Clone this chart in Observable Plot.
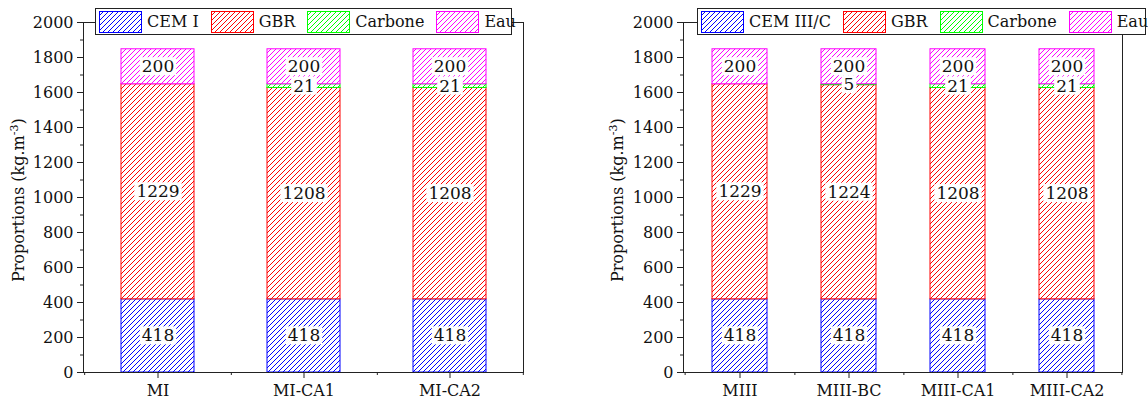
<!DOCTYPE html>
<html>
<head>
<meta charset="utf-8">
<script src="https://cdn.jsdelivr.net/npm/d3@7"></script>
<script src="https://cdn.jsdelivr.net/npm/@observablehq/plot@0.6"></script>
<style>
  html, body { margin: 0; padding: 0; background: white; }
  #root { position: relative; width: 1148px; height: 403px; overflow: hidden; font-family: "DejaVu Serif", serif; }
  .panel { position: absolute; top: 0; }
  .legend { position: absolute; top: 8px; height: 27px; box-sizing: border-box; border: 1px solid #222; background: white; display: flex; align-items: center; font-size: 16px; color: #111; white-space: nowrap; }
  .legend .item { display: flex; align-items: center; }
  .legend svg { display: block; margin-right: 5px; }
  .ylab { position: absolute; font-size: 16px; color: #111; white-space: nowrap; transform-origin: center center; }
</style>
</head>
<body>
<div id="root"></div>
<script>
// ---------- data ----------
const leftCategories = ["MI", "MI-CA1", "MI-CA2"];
const leftSeriesNames = ["CEM I", "GBR", "Carbone", "Eau"];
const leftCEM = [418, 418, 418];
const leftGBR = [1229, 1208, 1208];
const leftCarbone = [0, 21, 21];
const leftEau = [200, 200, 200];

const rightCategories = ["MIII", "MIII-BC", "MIII-CA1", "MIII-CA2"];
const rightSeriesNames = ["CEM III/C", "GBR", "Carbone", "Eau"];
const rightCEM = [418, 418, 418, 418];
const rightGBR = [1229, 1224, 1208, 1208];
const rightCarbone = [0, 5, 21, 21];
const rightEau = [200, 200, 200, 200];

const seriesColors = ["#0000ff", "#ff0000", "#00ff00", "#ff00ff"];
const yMajorTicks = d3.range(0, 2001, 200);
const yMinorTicks = d3.range(0, 2001, 100);
const yTitle = "Proportions (kg.m";
const yTitleSup = "-3";
const yTitleEnd = ")";

const root = document.getElementById("root");
const FONT = "DejaVu Serif";

function makePanel(id, left, width, ml, mr, cats, names, series, legendBox) {
  const rows = [];
  cats.forEach((c, i) => names.forEach((n, k) => rows.push({cat: c, comp: n, k, value: series[k][i]})));
  const pat = k => `url(#hatch-${id}-${k})`;
  const inner = width - ml - mr;
  const step = inner / cats.length;

  const plot = Plot.plot({
    width, height: 403,
    marginLeft: ml, marginRight: mr, marginTop: 22, marginBottom: 31,
    style: {fontFamily: FONT, fontSize: "16px", color: "#111", background: "white", overflow: "visible"},
    x: {domain: cats, paddingInner: 0.5, paddingOuter: 0.25, axis: null},
    y: {domain: [0, 2000], axis: null},
    color: {type: "identity"},
    marks: [
      Plot.barY(rows, {x: "cat", y: "value", fill: d => pat(d.k), stroke: d => seriesColors[d.k], strokeWidth: 1, order: null}),
      Plot.text(rows.filter(d => d.value > 0), Plot.stackY({x: "cat", y: "value", z: "k", text: d => String(d.value), fill: "#111", fontSize: 17})),
      Plot.frame({stroke: "#222", strokeWidth: 1}),
      Plot.axisY(yMinorTicks, {tickSize: 3, tickFormat: () => "", label: null, stroke: "#222"}),
      Plot.axisY(yMajorTicks, {tickSize: 6, tickPadding: 4, tickFormat: d => String(d), label: null, stroke: "#222", fill: "#111"}),
      Plot.axisX(cats, {tickSize: 6, tickPadding: 6, label: null, stroke: "#222", fill: "#111"}),
      Plot.axisX(cats, {tickSize: 3, tickFormat: () => "", label: null, stroke: "#222", dx: step / 2}),
      Plot.axisX(cats.slice(0, 1), {tickSize: 3, tickFormat: () => "", label: null, stroke: "#222", dx: -step / 2})
    ]
  });

  const holder = document.createElement("div");
  holder.className = "panel";
  holder.style.left = left + "px";
  holder.appendChild(plot);
  root.appendChild(holder);

  const NS = "http://www.w3.org/2000/svg";
  // hatch patterns
  const svg = d3.select(plot);
  const defs = svg.insert("defs", ":first-child");
  seriesColors.forEach((c, k) => {
    const p = defs.append("pattern").attr("id", `hatch-${id}-${k}`)
      .attr("patternUnits", "userSpaceOnUse").attr("width", 5).attr("height", 5);
    p.append("rect").attr("width", 5).attr("height", 5).attr("fill", "white");
    p.append("path").attr("d", "M-1,1 l2,-2 M0,5 l5,-5 M4,6 l2,-2")
      .attr("stroke", c).attr("stroke-width", 1).attr("fill", "none");
  });

  // white boxes behind value labels (measured from the rendered text)
  const svgBox = plot.getBoundingClientRect();
  const labelTexts = Array.from(plot.querySelectorAll("text")).filter(t => /^\d+$/.test(t.textContent) && !t.closest('[aria-label*="axis"]'));
  if (labelTexts.length) {
    const textGroup = labelTexts[0].parentNode;
    const boxGroup = document.createElementNS(NS, "g");
    labelTexts.forEach(t => {
      const b = t.getBoundingClientRect();
      const r = document.createElementNS(NS, "rect");
      r.setAttribute("x", b.left - svgBox.left - 2);
      r.setAttribute("y", b.top - svgBox.top + 1);
      r.setAttribute("width", b.width + 4);
      r.setAttribute("height", b.height - 2);
      r.setAttribute("fill", "#ffffff");
      r.setAttribute("stroke", "none");
      boxGroup.appendChild(r);
    });
    textGroup.parentNode.insertBefore(boxGroup, textGroup);
  }

  // legend
  const lg = document.createElement("div");
  lg.className = "legend";
  lg.style.left = legendBox.left + "px";
  lg.style.width = legendBox.width + "px";
  lg.style.paddingLeft = "3px";
  names.forEach((n, k) => {
    const it = document.createElement("div");
    it.className = "item";
    it.style.marginRight = (k < names.length - 1 ? legendBox.gap : 0) + "px";
    it.innerHTML = `<svg width="43" height="22"><rect x="0.5" y="0.5" width="42" height="21" fill="${pat(k)}" stroke="${seriesColors[k]}"/></svg><span>${n}</span>`;
    lg.appendChild(it);
  });
  root.appendChild(lg);

  // y title
  const yl = document.createElement("div");
  yl.className = "ylab";
  yl.innerHTML = `${yTitle}<sup style="font-size:11px">${yTitleSup}</sup>${yTitleEnd}`;
  root.appendChild(yl);
  const w = yl.offsetWidth, h = yl.offsetHeight;
  yl.style.left = (left + legendBox.titleX - w / 2) + "px";
  yl.style.top = (200 - h / 2) + "px";
  yl.style.transform = "rotate(-90deg)";
}

makePanel("L", 0, 574, 83, 51, leftCategories, leftSeriesNames,
  [leftCEM, leftGBR, leftCarbone, leftEau], {left: 95, width: 417, gap: 12, titleX: 18});
makePanel("R", 574, 574, 109, 26, rightCategories, rightSeriesNames,
  [rightCEM, rightGBR, rightCarbone, rightEau], {left: 697, width: 449, gap: 12, titleX: 43});
</script>
</body>
</html>
